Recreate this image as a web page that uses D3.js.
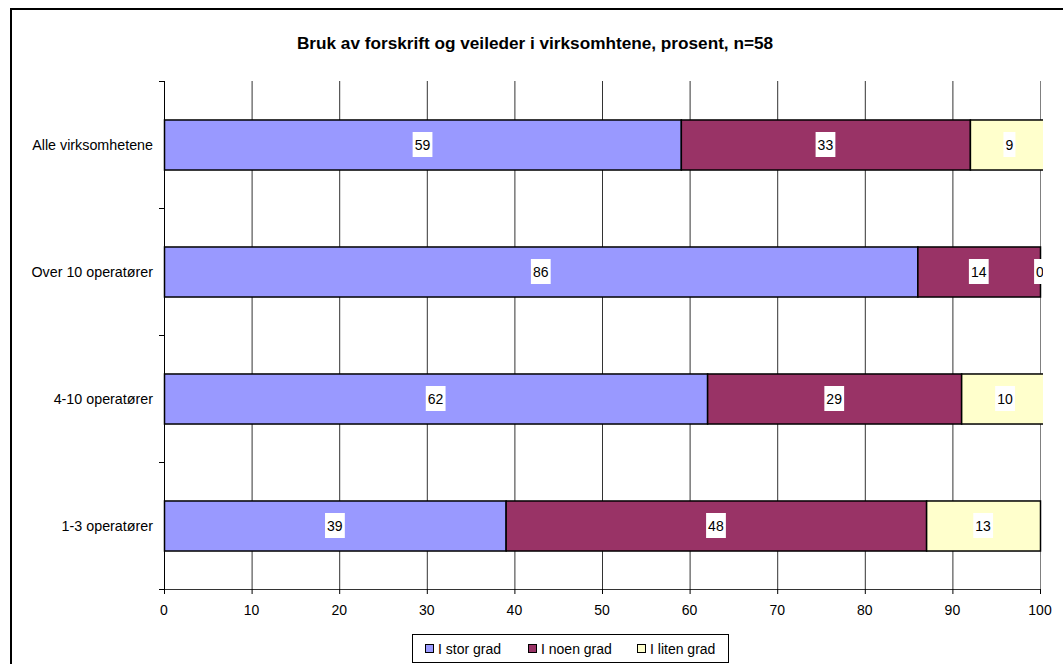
<!DOCTYPE html>
<html><head><meta charset="utf-8">
<script src="https://cdn.jsdelivr.net/npm/d3@7"></script>
<style>body{margin:0;background:#fff}svg{display:block;font-family:"Liberation Sans",Arial,sans-serif}</style>
</head><body>
<svg id="c" width="1063" height="664"></svg>
<script>
const categories = ["Alle virksomhetene","Over 10 operatører","4-10 operatører","1-3 operatører"];
const seriesNames = ["I stor grad","I noen grad","I liten grad"];
const seriesColors = ["#9999FF","#993366","#FFFFCC"];
const storGrad = [59,86,62,39];
const noenGrad = [33,14,29,48];
const litenGrad = [9,0,10,13];
const xTicks = [0,10,20,30,40,50,60,70,80,90,100];
const title = "Bruk av forskrift og veileder i virksomhtene, prosent, n=58";

const svg = d3.select("#c");
svg.append("rect").attr("x",11).attr("y",9).attr("width",1070).attr("height",680)
  .attr("fill","none").attr("stroke","#000").attr("stroke-width",2);

const L=164,R=1040,T=81,B=589;
const x = d3.scaleLinear().domain([0,100]).range([L,R]);
const y = d3.scaleBand().domain(categories).range([T,B]).paddingInner(0.606).paddingOuter(0.303);

svg.append("text").attr("x",535).attr("y",49).attr("text-anchor","middle")
  .attr("font-size",17.2).attr("font-weight","bold").text(title);

// gridlines
svg.append("g").selectAll("line").data(xTicks.slice(1)).join("line")
  .attr("x1",d=>x(d)+0.5).attr("x2",d=>x(d)+0.5).attr("y1",T).attr("y2",B)
  .attr("stroke",d=>d===100?"#808080":"#333").attr("stroke-width",1);

const rows = categories.map((c,i)=>({c, vals:[storGrad[i],noenGrad[i],litenGrad[i]]}));
const segs = [];
rows.forEach(r=>{let acc=0; r.vals.forEach((v,k)=>{segs.push({c:r.c,k,v,x0:acc,x1:acc+v}); acc+=v;});});

svg.append("defs").append("clipPath").attr("id","clip").append("rect")
  .attr("x",L-2).attr("y",0).attr("width",R-L+5).attr("height",664);

const g = svg.append("g").attr("clip-path","url(#clip)");
g.selectAll("rect.bar").data(segs.filter(s=>s.v>0)).join("rect").attr("class","bar")
  .attr("x",d=>x(d.x0)+0.5).attr("width",d=>x(d.x1)-x(d.x0))
  .attr("y",d=>y(d.c)+0.5).attr("height",y.bandwidth())
  .attr("fill",d=>seriesColors[d.k]).attr("stroke","#000").attr("stroke-width",1.5);

const lab = g.selectAll("g.lab").data(segs).join("g").attr("class","lab")
  .attr("transform",d=>`translate(${x((d.x0+d.x1)/2)},${y(d.c)+y.bandwidth()/2})`);
lab.append("text").attr("text-anchor","middle").attr("dy","0.36em").attr("font-size",14).text(d=>d.v)
  .each(function(){
    const bb=this.getBBox();
    d3.select(this.parentNode).insert("rect","text").attr("x",bb.x-2).attr("y",-12.5)
      .attr("width",bb.width+4).attr("height",25).attr("fill","#fff");
  });

// axes
svg.append("line").attr("x1",L).attr("x2",R).attr("y1",B+0.5).attr("y2",B+0.5).attr("stroke","#333");
svg.append("line").attr("x1",L+0.5).attr("x2",L+0.5).attr("y1",T).attr("y2",B).attr("stroke","#000");
svg.append("g").selectAll("line").data(xTicks).join("line")
  .attr("x1",d=>x(d)+0.5).attr("x2",d=>x(d)+0.5).attr("y1",B).attr("y2",B+5).attr("stroke","#000");
svg.append("g").selectAll("text").data(xTicks).join("text")
  .attr("x",d=>x(d)).attr("y",615).attr("text-anchor","middle").attr("font-size",14).text(d=>d);
const bandEdges = categories.map(c=>y(c)-y.step()*y.paddingInner()/2).concat([B]);
svg.append("g").selectAll("line").data(bandEdges).join("line")
  .attr("x1",L-5).attr("x2",L).attr("y1",d=>Math.round(d)+0.5).attr("y2",d=>Math.round(d)+0.5).attr("stroke","#000");
svg.append("g").selectAll("text").data(categories).join("text")
  .attr("x",153).attr("y",d=>y(d)+y.bandwidth()/2).attr("dy","0.36em")
  .attr("text-anchor","end").attr("font-size",14.3).text(d=>d);

// legend
const lg = svg.append("g");
lg.append("rect").attr("x",412.5).attr("y",634.5).attr("width",316).attr("height",28)
  .attr("fill","#fff").attr("stroke","#000");
const lx=[425,528,637];
seriesNames.forEach((n,i)=>{
  lg.append("rect").attr("x",lx[i]+0.5).attr("y",644.5).attr("width",8).attr("height",8)
    .attr("fill",seriesColors[i]).attr("stroke","#000");
  lg.append("text").attr("x",lx[i]+13).attr("y",654).attr("font-size",14).text(n);
});
</script>
</body></html>
